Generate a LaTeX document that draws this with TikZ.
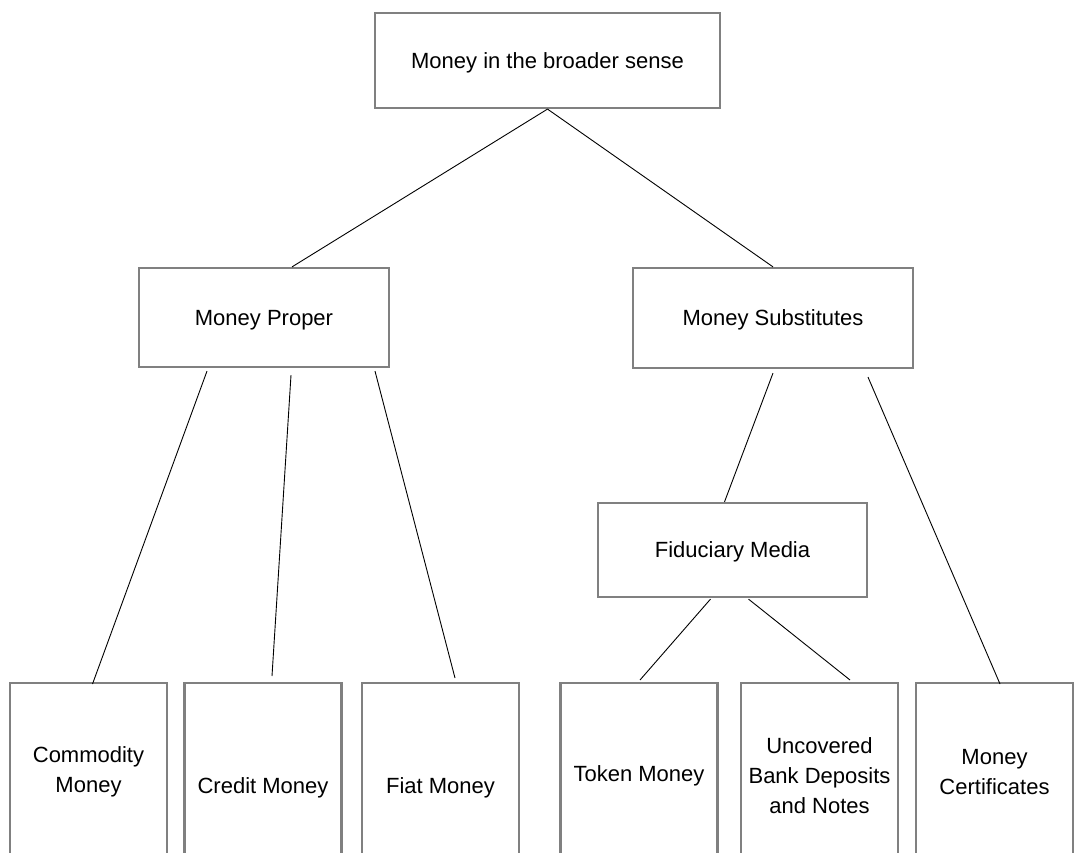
\documentclass[tikz,border=0pt]{standalone}
\usepackage{fontspec}
\setmainfont{Liberation Sans}
\definecolor{boxgray}{RGB}{128,128,128}
\tikzset{
	box/.style={draw=boxgray,line width=2.2pt,inner sep=0pt,align=center},
	upper/.style={box,text depth=-2pt},
	leaf/.style={box,anchor=north,minimum width=157},
	link/.style={line width=0.9pt}
}
\begin{document}
\begin{tikzpicture}[x=1pt,y=-1pt,font=\fontsize{22}{30}\selectfont]
	\clip (0,0) rectangle (1074,853); %page
	%top box
	\node[upper,minimum width=345,minimum height=95] (broad) at (547.5,60.5) {Money in the broader sense};
	%second row
	\node[upper,minimum width=250,minimum height=99] (proper) at (264,317.5) {Money Proper};
	\node[upper,minimum width=280,minimum height=100] (subst) at (773,318) {Money Substitutes};
	\node[upper,minimum width=269,minimum height=94] (fid) at (732.5,550) {Fiduciary Media};

	%bottom row (cut off at the page edge)
	\node[leaf,minimum height=178] (commodity) at (88.5,682) {Commodity\\Money};
	\node[leaf,minimum height=210] (credit) at (263,682) {Credit Money};
	\node[leaf,minimum height=210] (fiat) at (440.5,682) {Fiat Money};
	\node[leaf,minimum height=186] (token) at (639,682) {Token Money};
	\node[leaf,minimum height=186] (uncovered) at (819.5,682) {Uncovered\\Bank Deposits\\and Notes};
	\node[leaf,minimum height=178] (certif) at (994.5,682) {Money\\Certificates};

	%lines
	\draw[link] (broad.south) -- ([xshift=28]proper.north);
	\draw[link] (broad.south) -- (subst.north);
	\draw[link] ([xshift=-57,yshift=-3]proper.south) -- ([xshift=4,yshift=-2]commodity.north); %commodity
	\draw[link] ([xshift=27,yshift=-7]proper.south) -- ([xshift=9,yshift=6]credit.north); %credit
	\draw[link] ([xshift=111,yshift=-3]proper.south) -- ([xshift=14.5,yshift=4]fiat.north); %fiat
	\draw[link] ([yshift=-4]subst.south) -- ([xshift=-8]fid.north); %fiduciary
	\draw[link] ([xshift=95,yshift=-8]subst.south) -- ([xshift=5.5,yshift=-2]certif.north); %certificates
	\draw[link] ([xshift=-22,yshift=-1]fid.south) -- ([xshift=1,yshift=2]token.north); %token
	\draw[link] ([xshift=16,yshift=-1]fid.south) -- ([xshift=30.5,yshift=2]uncovered.north); %uncovered
\end{tikzpicture}
\end{document}
